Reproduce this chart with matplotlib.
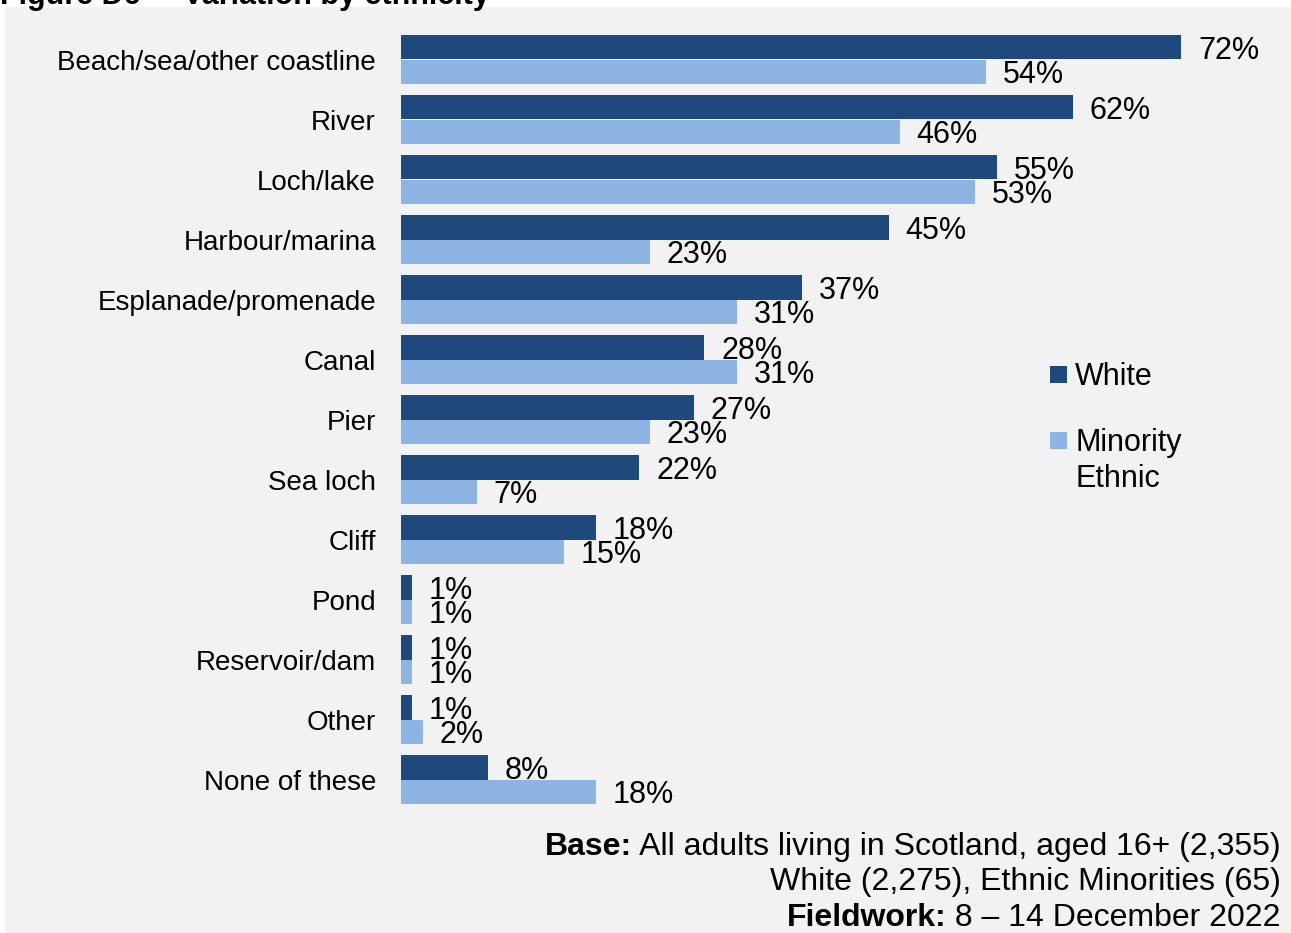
import matplotlib

matplotlib.use("Agg")
import matplotlib.pyplot as plt
import numpy as np
from matplotlib.patches import Rectangle

plt.rcParams["font.family"] = ["Liberation Sans", "DejaVu Sans"]

CATEGORIES = [
    "Beach/sea/other coastline", "River", "Loch/lake", "Harbour/marina",
    "Esplanade/promenade", "Canal", "Pier", "Sea loch", "Cliff", "Pond",
    "Reservoir/dam", "Other", "None of these",
]
WHITE = [72, 62, 55, 45, 37, 28, 27, 22, 18, 1, 1, 1, 8]
MINORITY = [54, 46, 53, 23, 31, 31, 23, 7, 15, 1, 1, 2, 18]
SERIES_NAMES = ["White", "Minority\nEthnic"]

DARK = "#1F497D"
LIGHT = "#8DB4E2"
BG = "#F2F2F2"

W, H = 1291, 933


def fx(px):
    return px / W


def fy(py):
    return 1 - py / H


fig = plt.figure(figsize=(W / 100, H / 100), dpi=100, facecolor="white")
fig.patches.append(Rectangle((fx(5), 0), 1 - fx(5), fy(7), transform=fig.transFigure,
                             facecolor=BG, edgecolor="none", zorder=-10))
fig.text(fx(0), fy(4), "Figure D6 \u2013  Variation by ethnicity", fontsize=22,
         fontweight="bold", ha="left", va="baseline")

ax = fig.add_axes([fx(401), fy(809.5), 867 / W, 780 / H])
ax.set_facecolor("none")
y = np.arange(len(CATEGORIES))
h = 0.41
ax.barh(y - h / 2, WHITE, height=h, color=DARK)
ax.barh(y + h / 2, MINORITY, height=h, color=LIGHT)
for yi, v in zip(y, WHITE):
    ax.annotate(f"{v}%", (v, yi - h / 2), xytext=(12, -2.5), textcoords="offset points",
                fontsize=22, va="center", ha="left")
for yi, v in zip(y, MINORITY):
    ax.annotate(f"{v}%", (v, yi + h / 2), xytext=(12, -2.5), textcoords="offset points",
                fontsize=22, va="center", ha="left")

ax.set_xlim(0, 80)
ax.set_ylim(len(CATEGORIES) - 0.5, -0.5)
ax.set_yticks(y, CATEGORIES, fontsize=20)
ax.tick_params(axis="y", length=0, pad=18)
ax.set_xticks([])
for s in ax.spines.values():
    s.set_visible(False)

# legend drawn by hand so the square sits on the first line of the label
for color, name, ypx in [(DARK, SERIES_NAMES[0], 374), (LIGHT, SERIES_NAMES[1], 440)]:
    fig.patches.append(Rectangle((fx(1050), fy(ypx + 8.5)), 17 / W, 17 / H,
                                 transform=fig.transFigure, facecolor=color, edgecolor="none"))
    for i, line in enumerate(name.split("\n")):
        fig.text(fx(1075), fy(ypx + 3 + 36 * i), line, fontsize=22, ha="left", va="center")

footer = [("Base:", " All adults living in Scotland, aged 16+ (2,355)", 845),
          ("", "White (2,275), Ethnic Minorities (65)", 880),
          ("Fieldwork:", " 8 \u2013 14 December 2022", 916)]
for bold, normal, ypx in footer:
    t = fig.text(fx(1281), fy(ypx + 2), normal, fontsize=23, ha="right", va="center")
    if bold:
        ax.annotate(bold, xy=(0, 0.5), xycoords=t, fontsize=23, fontweight="bold",
                    ha="right", va="center", annotation_clip=False)

fig.savefig("out.png", dpi=100, facecolor="white")
